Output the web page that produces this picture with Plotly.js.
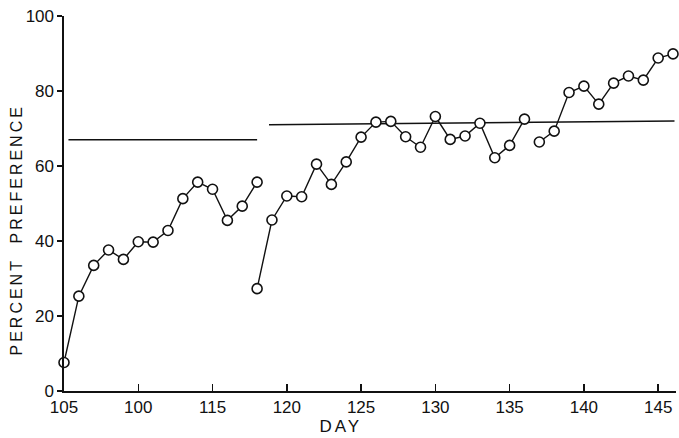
<!DOCTYPE html>
<html>
<head>
<meta charset="utf-8">
<script src="https://cdn.plot.ly/plotly-3.0.1.min.js"></script>
<style>html,body{margin:0;padding:0;background:#fff;}</style>
</head>
<body>
<div id="chart" style="width:679px;height:438px;"></div>
<script>
// Data
var days1 = [105,106,107,108,109,110,111,112,113,114,115,116,117,118];
var pct1  = [7.6,25.3,33.5,37.6,35.1,39.8,39.7,42.8,51.3,55.7,53.8,45.5,49.3,55.7];
var days2 = [118,119,120,121,122,123,124,125,126,127,128,129,130,131,132,133,134,135,136];
var pct2  = [27.3,45.6,52.0,51.8,60.5,55.1,61.1,67.7,71.7,71.9,67.8,65.0,73.2,67.1,68.0,71.4,62.2,65.5,72.5];
var days3 = [137,138,139,140,141,142,143,144,145,146];
var pct3  = [66.4,69.3,79.6,81.3,76.5,82.1,84.0,82.9,88.8,89.9];
// Criterion lines
var crit1X = [105.3, 118.0];
var crit1Y = [67, 67];
var crit2X = [118.8, 146.1];
var crit2Y = [71, 72];
// Tick labels (as printed on the original)
var xTickVals = [105,110,115,120,125,130,135,140,145];
var xTickText = ['105','100','115','120','125','130','135','140','145'];
var yTickVals = [0,20,40,60,80,100];

var ink = '#111';
function seg(x, y) {
  return {x: x, y: y, type: 'scatter', mode: 'lines+markers', cliponaxis: false,
    line: {color: ink, width: 1.4},
    marker: {size: 10, color: '#fff', line: {color: ink, width: 1.6}},
    showlegend: false, hoverinfo: 'x+y'};
}
function crit(x, y) {
  return {x: x, y: y, type: 'scatter', mode: 'lines', line: {color: ink, width: 1.4},
    showlegend: false, hoverinfo: 'skip'};
}
var data = [crit(crit1X, crit1Y), crit(crit2X, crit2Y), seg(days1, pct1), seg(days2, pct2), seg(days3, pct3)];

var font = {family: 'Liberation Sans, Arial, sans-serif', size: 17, color: ink};
var layout = {
  width: 679, height: 438,
  margin: {l: 64, r: 3, t: 16, b: 47},
  paper_bgcolor: '#fff', plot_bgcolor: '#fff',
  font: font,
  xaxis: {range: [105, 146.2], tickvals: xTickVals, ticktext: xTickText,
    ticks: 'inside', ticklen: 7, tickwidth: 1.4, tickcolor: ink,
    showline: true, linecolor: ink, linewidth: 1.6, showgrid: false, zeroline: false,
    tickfont: font},
  yaxis: {range: [0, 100], tickvals: yTickVals,
    ticks: 'outside', ticklen: 5, tickwidth: 1.4, tickcolor: ink,
    showline: true, linecolor: ink, linewidth: 1.6, showgrid: false, zeroline: false,
    tickfont: font},
  annotations: [
    {text: 'DAY', xref: 'paper', yref: 'paper', x: (341 - 64) / 612, y: -0.095,
     xanchor: 'center', yanchor: 'middle', showarrow: false,
     font: {family: 'Liberation Sans, Arial, sans-serif', size: 17, color: ink}},
    {text: 'PERCENT  PREFERENCE', xref: 'paper', yref: 'paper', x: (16 - 64) / 612, y: (391 - 230) / 375,
     xanchor: 'center', yanchor: 'middle', textangle: -90, showarrow: false,
     font: {family: 'Liberation Sans, Arial, sans-serif', size: 16, color: ink}}
  ]
};
Plotly.newPlot('chart', data, layout, {displayModeBar: false, staticPlot: true}).then(function () {
  document.querySelectorAll('.annotation-text').forEach(function (el) {
    el.style.letterSpacing = '3px';
  });
});
</script>
</body>
</html>
